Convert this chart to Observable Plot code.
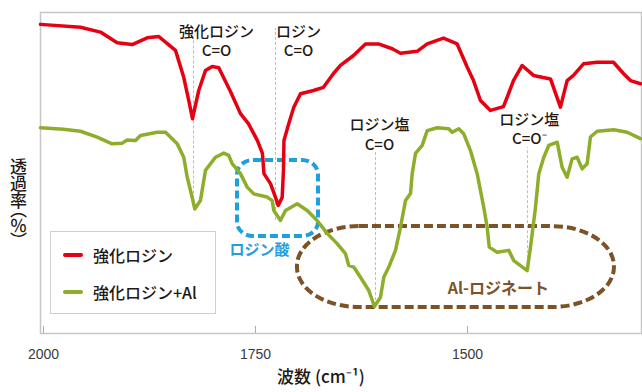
<!DOCTYPE html>
<html>
<head>
<meta charset="utf-8">
<script src="https://cdn.jsdelivr.net/npm/d3@7"></script>
<script src="https://cdn.jsdelivr.net/npm/@observablehq/plot@0.6"></script>
<style>
  html, body { margin: 0; padding: 0; background: #fff; }
  #wrap { position: relative; width: 642px; height: 392px; font-family: "Noto Sans CJK JP", sans-serif; color: #231815; }
  #ylabel { position: absolute; left: 10px; top: 158px; writing-mode: vertical-rl; font-size: 17px; font-weight: 500; line-height: 1; font-feature-settings: "vpal" 1; }
  #legend { position: absolute; left: 50px; top: 231px; width: 164px; height: 81px; border: 1.5px solid #cfcfcf; background: #fff; }
  .item { position: absolute; left: 12px; font-size: 16px; font-weight: 500; line-height: 1; display: flex; align-items: center; }
  .sw { width: 20px; height: 4px; border-radius: 2px; margin-right: 10px; }
</style>
</head>
<body>
<div id="wrap">
  <div id="ylabel">透過率（％）</div>
</div>
<script>
// ---- data ----
const xTicks = [2000, 1750, 1500];

const redWave = [2003.5,1956.4,1932.8,1913.1,1895.4,1877.7,1864.0,1844.3,1834.6,1828.7,1824.3,1816.9,1809.0,1801.1,1793.3,1779.5,1767.7,1758.3,1747.7,1741.8,1740.0,1732.3,1726.4,1723.2,1718.5,1717.0,1716.4,1710.7,1704.8,1696.9,1681.6,1669.8,1658.0,1649.8,1634.4,1620.3,1605.0,1588.8,1579.0,1559.3,1547.5,1528.3,1512.2,1500.4,1492.9,1484.7,1472.9,1457.6,1453.2,1445.8,1435.5,1422.2,1402.1,1390.4,1382.5,1375.0,1363.2,1347.1,1327.9,1316.1,1307.8,1296.0];
const redT = [96.3,95.4,93.9,90.6,90.0,92.1,92.5,88.2,79.8,72.6,66.9,75.7,81.9,83.2,82.8,75.4,68.5,65.4,60.1,56.1,49.8,46.7,42.4,39.9,42.4,50.8,60.1,65.4,70.5,74.7,75.7,76.7,81.0,83.5,86.6,90.2,90.2,88.7,87.3,87.9,90.2,92.0,90.2,83.0,78.8,72.6,69.5,70.7,73.6,78.8,83.5,80.4,79.3,70.5,78.8,80.4,84.0,84.5,84.5,81.0,78.8,77.8];

const greenWave = [2003.5,1976.4,1956.4,1936.7,1919.0,1907.2,1901.3,1891.5,1885.6,1865.9,1856.1,1842.3,1834.6,1830.5,1824.7,1821.6,1814.9,1809.0,1797.2,1787.4,1781.5,1777.5,1767.7,1759.8,1752.0,1736.2,1730.3,1728.4,1720.5,1714.6,1700.8,1689.0,1677.3,1665.5,1653.7,1643.9,1640.0,1634.1,1626.2,1616.4,1609.7,1602.6,1598.7,1592.8,1584.9,1579.0,1573.1,1567.2,1565.2,1561.3,1553.4,1547.5,1535.7,1522.1,1518.1,1510.3,1504.4,1496.5,1488.6,1480.8,1476.8,1474.3,1465.0,1451.3,1445.4,1429.6,1425.7,1419.8,1415.9,1410.0,1404.1,1394.2,1388.4,1382.5,1376.6,1370.7,1364.8,1358.9,1355.0,1347.1,1327.5,1311.7,1296.0];
const greenT = [64.1,63.6,63.0,61.2,59.1,59.3,60.3,60.1,61.7,62.7,62.7,59.1,54.9,48.7,42.5,38.8,41.4,50.8,54.9,56.2,55.5,52.9,49.8,45.6,43.5,42.5,41.4,38.3,35.2,38.3,40.4,38.3,35.2,31.2,28.0,24.9,21.2,20.7,17.5,13.4,8.4,11.3,17.5,20.7,25.9,33.1,41.4,43.6,49.8,56.1,58.6,63.2,64.1,63.8,62.7,63.8,62.2,57.0,49.8,39.3,33.1,26.9,25.3,25.9,22.7,19.6,26.9,39.3,49.8,54.9,58.6,59.6,51.8,48.7,54.4,54.9,51.3,52.9,61.2,63.0,63.5,62.7,60.7];

const peakWave = [1823.1, 1726.4, 1608.5, 1429.3];
const peakTop = [91.3, 95.0, 57.0, 57.9];
const peakBottom = [38.8, 35.2, 8.7, 20.2];

const labelText = ["強化ロジン\nC=O", "ロジン\nC=O", "ロジン塩\nC=O", "ロジン塩\nC=O⁻"];
const labelWave = [1796.0, 1699.3, 1603.8, 1427.1];
const labelT = [91.4, 91.4, 62.2, 64.0];

const seriesNames = ["強化ロジン", "強化ロジン+Al"];
const seriesColors = ["#e60012", "#8dae2a"];

// regions
const acidRegion = {name: "ロジン酸", x1: 1771.2, x2: 1675.7, y1: 30.2, y2: 53.9, labelX: 1745.3, labelY: 25.9};
const saltRegion = {name: "Al-ロジネート", x1: 1700.5, x2: 1326.7, y1: 8.1, y2: 33.3, labelX: 1463.5, labelY: 14.0};

// ---- tables ----
const red = redWave.map((w, i) => ({w, t: redT[i]}));
const green = greenWave.map((w, i) => ({w, t: greenT[i]}));
const peaks = peakWave.map((w, i) => ({w, top: peakTop[i], bottom: peakBottom[i]}));
const labels = labelText.map((text, i) => ({text, w: labelWave[i], t: labelT[i]}));

const chart = Plot.plot({
  width: 642,
  height: 392,
  marginLeft: 40,
  marginRight: 1,
  marginTop: 12,
  marginBottom: 59,
  x: {domain: [2003.5, 1294.8]},
  y: {domain: [0, 100], axis: null},
  style: {fontFamily: "'Noto Sans CJK JP', sans-serif", background: "white", overflow: "visible"},
  marks: [
    Plot.frame({stroke: "#c6c6c6", strokeWidth: 1.5}),
    Plot.ruleX(xTicks, {y1: 0, y2: 2.2, stroke: "#aaa", strokeWidth: 1}),
    Plot.axisX({ticks: xTicks, tickSize: 0, tickPadding: 16, tickFormat: d => String(d), fontSize: 14, fontFamily: "Liberation Sans", color: "#3a3a3a", label: null}),
    Plot.text(["波数 (cm⁻¹)"], {frameAnchor: "bottom", dy: 49, dx: -20, fontSize: 17, fontWeight: 500, fill: "#231815"}),
    Plot.ruleX(peaks, {x: "w", y1: "bottom", y2: "top", stroke: "#bdbdbd", strokeWidth: 1, strokeDasharray: "3,2"}),
    Plot.rect([acidRegion], {x1: "x1", x2: "x2", y1: "y1", y2: "y2", rx: 16, ry: 14, fill: "none", stroke: "#1fa0dd", strokeWidth: 4, strokeDasharray: "8,4"}),
    Plot.rect([saltRegion], {x1: "x1", x2: "x2", y1: "y1", y2: "y2", rx: 62, ry: 40, fill: "none", stroke: "#7d5226", strokeWidth: 4, strokeDasharray: "9,4"}),
    Plot.line(green, {x: "w", y: "t", stroke: seriesColors[1], strokeWidth: 3.5, strokeLinejoin: "round", strokeLinecap: "round"}),
    Plot.line(red, {x: "w", y: "t", stroke: seriesColors[0], strokeWidth: 3.5, strokeLinejoin: "round", strokeLinecap: "round"}),
    Plot.text(labels, {x: "w", y: "t", text: "text", fontSize: 15, fontWeight: 500, lineHeight: 1.3, fill: "#231815"}),
    Plot.text([acidRegion], {x: "labelX", y: "labelY", text: "name", fontSize: 15, fontWeight: "bold", fill: "#1fa0dd"}),
    Plot.text([saltRegion], {x: "labelX", y: "labelY", text: "name", fontSize: 16, fontWeight: "bold", fill: "#7d5226"})
  ]
});

const wrap = document.getElementById("wrap");
wrap.insertBefore(chart, wrap.firstChild);

// legend
const legend = document.createElement("div");
legend.id = "legend";
seriesNames.forEach((name, i) => {
  const item = document.createElement("div");
  item.className = "item";
  item.style.top = (i === 0 ? 15 : 52) + "px";
  const sw = document.createElement("span");
  sw.className = "sw";
  sw.style.background = seriesColors[i];
  const tx = document.createElement("span");
  tx.textContent = name;
  item.appendChild(sw);
  item.appendChild(tx);
  legend.appendChild(item);
});
wrap.appendChild(legend);
</script>
</body>
</html>
